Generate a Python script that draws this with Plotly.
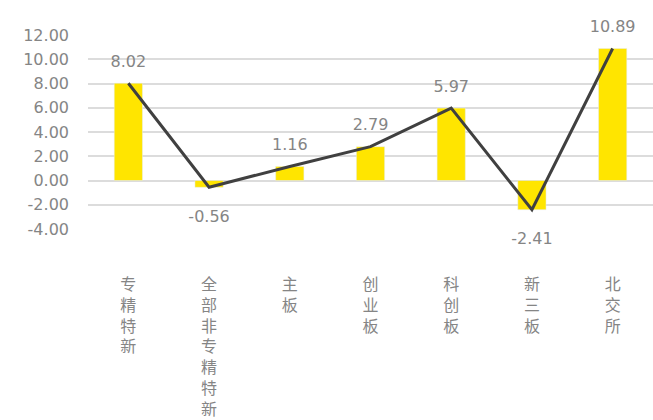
import plotly.graph_objects as go

# 各板块数值
categories = ["专精特新", "全部非专精特新", "主板", "创业板", "科创板", "新三板", "北交所"]
values = [8.02, -0.56, 1.16, 2.79, 5.97, -2.41, 10.89]

y_ticks = [12, 10, 8, 6, 4, 2, 0, -2, -4]
y_tick_labels = ["12.00", "10.00", "8.00", "6.00", "4.00", "2.00", "0.00", "-2.00", "-4.00"]

GRAY_TEXT = "#858585"
FONT = "DejaVu Sans"
CJK_FONT = "Noto Sans CJK SC"

# 竖排分类标签：逐字换行
vertical_labels = ["<br>".join(list(c)) for c in categories]

fig = go.Figure()

fig.add_trace(go.Bar(
    x=categories,
    y=values,
    marker=dict(color="#FFE500"),
    width=0.35,
    hoverinfo="skip",
    showlegend=False,
))

pos_values = [v if v >= 0 else None for v in values]
neg_values = [v if v < 0 else None for v in values]

fig.add_trace(go.Scatter(
    x=categories,
    y=values,
    mode="lines",
    line=dict(color="#404040", width=3),
    showlegend=False,
    hoverinfo="skip",
))

# 数据标签：正值在上，负值在下
fig.add_trace(go.Scatter(
    x=categories,
    y=pos_values,
    mode="markers+text",
    marker=dict(size=18, color="rgba(0,0,0,0)"),
    text=[f"{v:.2f}" if v is not None else "" for v in pos_values],
    textposition="top center",
    textfont=dict(family=FONT, size=16, color=GRAY_TEXT),
    cliponaxis=False,
    showlegend=False,
    hoverinfo="skip",
))
fig.add_trace(go.Scatter(
    x=categories,
    y=neg_values,
    mode="markers+text",
    marker=dict(size=34, color="rgba(0,0,0,0)"),
    text=[f"{v:.2f}" if v is not None else "" for v in neg_values],
    textposition="bottom center",
    textfont=dict(family=FONT, size=16, color=GRAY_TEXT),
    cliponaxis=False,
    showlegend=False,
    hoverinfo="skip",
))

fig.update_layout(
    width=653,
    height=420,
    margin=dict(l=88, r=0, t=35, b=189),
    paper_bgcolor="white",
    plot_bgcolor="white",
    xaxis=dict(
        tickmode="array",
        tickvals=categories,
        ticktext=vertical_labels,
        ticks="",
        showgrid=False,
        showline=False,
        zeroline=False,
        tickfont=dict(family=CJK_FONT, size=16, color=GRAY_TEXT),
        tickangle=0,
        ticklabelstandoff=44,
        range=[-0.5, 6.5],
    ),
    yaxis=dict(
        range=[-4, 12],
        tickmode="array",
        tickvals=y_ticks,
        ticktext=y_tick_labels,
        showgrid=True,
        gridcolor="#dcdcdc",
        gridwidth=1.5,
        zeroline=False,
        showline=False,
        ticks="",
        ticklabelstandoff=18,
        tickfont=dict(family=FONT, size=16, color=GRAY_TEXT),
    ),
)

fig.write_html("out.html")
